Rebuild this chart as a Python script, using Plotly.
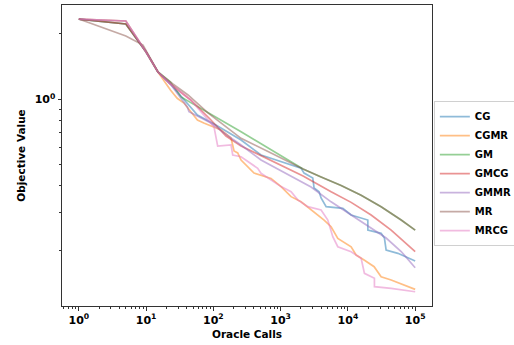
import plotly.graph_objects as go
import numpy as np

# ---- data (oracle calls, objective value) ----
names = ["CG", "CGMR", "GM", "GMCG", "GMMR", "MR", "MRCG"]
colors = ["#1f77b4", "#ff7f0e", "#2ca02c", "#d62728", "#9467bd", "#8c564b", "#e377c2"]

cg_x = [1, 5, 10, 15, 23, 41, 58, 109, 258, 511, 2012, 2230, 3004, 3142, 3727, 3993, 4743,
        8400, 11160, 19770, 19800, 31170, 34920, 37000, 55300, 100000]
cg_y = [2.344, 2.223, 1.652, 1.336, 1.176, 0.951, 0.847, 0.761, 0.649, 0.554, 0.481, 0.457, 0.434,
        0.390, 0.375, 0.351, 0.320, 0.3146, 0.293, 0.2778, 0.2497, 0.2412, 0.2295, 0.2020, 0.1951, 0.1798]

cgmr_x = [1, 5, 10, 15, 23, 29, 36.5, 58, 72, 130, 183, 203, 230, 258, 402, 511, 720, 1014, 1429,
          2012, 2834, 4426, 5623, 7075, 11160, 13250, 17410, 24530, 31170, 43950, 100000]
cgmr_y = [2.344, 2.295, 1.652, 1.336, 1.104, 1.011, 0.961, 0.803, 0.777, 0.722, 0.663, 0.578, 0.566,
          0.525, 0.457, 0.448, 0.432, 0.396, 0.356, 0.337, 0.309, 0.2778, 0.2587, 0.2287, 0.2092,
          0.1916, 0.1817, 0.1693, 0.1522, 0.1470, 0.1331]

gm_x = [1, 5, 10, 15, 23, 33, 258, 720, 2155, 3993, 7925, 15710, 31170, 61900, 100000]
gm_y = [2.344, 2.223, 1.652, 1.336, 1.201, 1.025, 0.709, 0.584, 0.477, 0.4385, 0.4007, 0.3610,
        0.3196, 0.2778, 0.2497]

gmcg_x = [1, 5, 10, 15, 23, 46, 92, 154, 258, 363, 720, 2155, 5623, 11160, 22130, 43950, 100000]
gmcg_y = [2.344, 2.223, 1.652, 1.336, 1.176, 0.993, 0.803, 0.677, 0.609, 0.578, 0.525, 0.443, 0.375,
          0.335, 0.293, 0.2497, 0.1984]

gmmr_x = [1, 5, 10, 15, 23, 41, 43.4, 92, 183, 258, 511, 2834, 5623, 11160, 18650, 37000, 61900, 100000]
gmmr_y = [2.344, 2.295, 1.652, 1.336, 1.176, 0.922, 0.877, 0.777, 0.663, 0.616, 0.525, 0.394, 0.337,
          0.293, 0.2634, 0.2295, 0.1989, 0.1675]

mr_x = [1, 5, 9, 15, 25, 42, 83, 258, 720, 2155, 3993, 7925, 15710, 31170, 61900, 100000]
mr_y = [2.344, 1.958, 1.779, 1.336, 1.176, 1.047, 0.866, 0.661, 0.566, 0.477, 0.4385, 0.4007, 0.3610,
        0.3196, 0.2778, 0.2497]

mrcg_x = [1, 5, 10, 15, 23, 46, 102, 116, 183, 194, 258, 324, 456, 511, 643, 1014, 1429, 1797, 2530,
          3993, 5024, 5960, 7075, 11160, 15710, 17610, 24780, 24800, 43950, 100000]
mrcg_y = [2.344, 2.295, 1.652, 1.336, 1.176, 0.993, 0.748, 0.609, 0.616, 0.554, 0.544, 0.516, 0.481,
          0.456, 0.434, 0.396, 0.375, 0.344, 0.320, 0.309, 0.2778, 0.2326, 0.2092, 0.1984, 0.1850,
          0.1578, 0.1496, 0.1369, 0.1346, 0.1298]

series_x = [cg_x, cgmr_x, gm_x, gmcg_x, gmmr_x, mr_x, mrcg_x]
series_y = [cg_y, cgmr_y, gm_y, gmcg_y, gmmr_y, mr_y, mrcg_y]

x_major = [1, 10, 100, 1000, 10000, 100000]
x_major_text = ["10<sup>0</sup>", "10<sup>1</sup>", "10<sup>2</sup>", "10<sup>3</sup>", "10<sup>4</sup>", "10<sup>5</sup>"]
y_major = [1]
y_major_text = ["10<sup>0</sup>"]


def rgba(hexc, a):
    h = hexc.lstrip("#")
    return "rgba(%d,%d,%d,%.2f)" % (int(h[0:2], 16), int(h[2:4], 16), int(h[4:6], 16), a)


fig = go.Figure()
for n, c, xs, ys in zip(names, colors, series_x, series_y):
    fig.add_trace(go.Scatter(x=xs, y=ys, mode="lines", name=n,
                             line=dict(color=rgba(c, 0.5), width=1.7)))

x_minor = [m * 10.0 ** k for k in range(-1, 6) for m in range(2, 10)]
x_minor = [v for v in x_minor if 10 ** -0.25 <= v <= 10 ** 5.25]
y_minor = [m * 10.0 ** k for k in range(-1, 1) for m in range(2, 10)]
y_minor = [v for v in y_minor if 10 ** -0.9525 <= v <= 10 ** 0.4346]

font_main = dict(family="DejaVu Sans", size=10, color="black", weight="bold")

fig.update_layout(
    width=514, height=345,
    margin=dict(l=62, r=82, t=5, b=39, autoexpand=False),
    paper_bgcolor="white", plot_bgcolor="white",
    font=font_main,
    showlegend=True,
    legend=dict(x=1.005, y=0.44, xanchor="left", yanchor="middle",
                bordercolor="#d0d0d0", borderwidth=1, bgcolor="white",
                font=dict(family="DejaVu Sans", size=10, color="black", weight="bold"),
                tracegroupgap=0, itemwidth=30),
)
fig.update_xaxes(
    type="log", range=[-0.25, 5.25],
    showgrid=False, zeroline=False,
    showline=True, linecolor="#333333", linewidth=1, mirror=True,
    ticks="outside", ticklen=3.5, tickwidth=0.8, tickcolor="#333333",
    tickmode="array", tickvals=x_major, ticktext=x_major_text,
    tickfont=dict(family="DejaVu Sans", size=11, color="black", weight="bold"),
    minor=dict(ticks="outside", ticklen=2, tickwidth=0.6, tickcolor="#333333",
               tickmode="array", tickvals=x_minor, showgrid=False),
    title=dict(text="Oracle Calls", standoff=4,
               font=dict(family="DejaVu Sans", size=10.5, color="black", weight="bold")),
)
fig.update_yaxes(
    type="log", range=[-0.9525, 0.4346],
    showgrid=False, zeroline=False,
    showline=True, linecolor="#333333", linewidth=1, mirror=True,
    ticks="outside", ticklen=3.5, tickwidth=0.8, tickcolor="#333333",
    tickmode="array", tickvals=y_major, ticktext=y_major_text,
    tickfont=dict(family="DejaVu Sans", size=11, color="black", weight="bold"),
    minor=dict(ticks="outside", ticklen=2, tickwidth=0.6, tickcolor="#333333",
               tickmode="array", tickvals=y_minor, showgrid=False),
    title=dict(text="Objective Value", standoff=6,
               font=dict(family="DejaVu Sans", size=10.5, color="black", weight="bold")),
)

fig.write_html("out.html")
